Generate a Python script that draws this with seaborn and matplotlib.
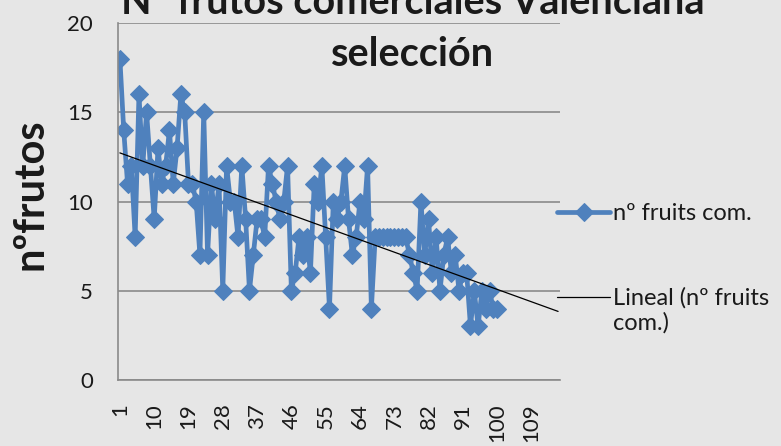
import numpy as np
import pandas as pd
import matplotlib
matplotlib.use("Agg")
import matplotlib.pyplot as plt
import seaborn as sns
from matplotlib.legend_handler import HandlerLine2D

# ---- data ----
frutos = [18, 14, 11, 12, 8, 16, 12, 15, 12, 9,
          13, 11, 12, 14, 11, 13, 16, 15, 11, 11,
          10, 7, 15, 7, 11, 9, 11, 5, 12, 10,
          10, 8, 12, 9, 5, 7, 9, 9, 8, 12,
          11, 10, 9, 10, 12, 5, 6, 8, 7, 8,
          6, 11, 10, 12, 8, 4, 10, 9, 10, 12,
          9, 7, 8, 10, 9, 12, 4, 8, 8, 8,
          8, 8, 8, 8, 8, 8, 7, 6, 5, 10,
          7, 9, 6, 8, 5, 7, 8, 6, 7, 5,
          6, 6, 3, 5, 3, 5, 4, 5, 4, 4]
n_categories = 116
xtick_values = [1, 10, 19, 28, 37, 46, 55, 64, 73, 82, 91, 100, 109]
xtick_labels = [str(v) for v in xtick_values]
ytick_values = [0, 5, 10, 15, 20]
title_l1 = "Nº frutos comerciales Valenciana"
title_l2 = "selección"
ylabel = "nºfrutos"
series_label = "nº fruits com."
trend_label = "Lineal (nº fruits\ncom.)"

df = pd.DataFrame({"muestra": np.arange(1, len(frutos) + 1), "frutos": frutos})

# ---- style ----
sns.set_style("white")
plt.rcParams["font.family"] = ["Lato", "DejaVu Sans"]
BG = "#E6E6E6"
GRID = "#8A8A8A"
BLUE = "#4F81BD"
TXT = "#1A1A1A"

W, H = 781, 446
fig = plt.figure(figsize=(W / 100, H / 100), dpi=100, facecolor=BG)
ax = fig.add_axes([118 / W, 1 - 380 / H, (560 - 118) / W, (380 - 23) / H], facecolor=BG)

sns.lineplot(data=df, x="muestra", y="frutos", ax=ax, color=BLUE, linewidth=3.4,
             marker="D", markersize=9, markeredgecolor=BLUE, markerfacecolor=BLUE,
             label=series_label, legend=False)

# linear trend line over all categories
coef = np.polyfit(df["muestra"], df["frutos"], 1)
xt = np.array([1, n_categories])
trend, = ax.plot(xt, np.polyval(coef, xt), color="black", linewidth=0.9, label=trend_label)

ax.set_xlim(0.5, n_categories + 0.5)
ax.set_ylim(0, 20)
ax.set_yticks(ytick_values)
ax.set_yticklabels([str(v) for v in ytick_values])
ax.set_xticks(xtick_values)
ax.set_xticklabels(xtick_labels, rotation=90)
ax.tick_params(axis="both", length=0, labelsize=16, colors=TXT)
ax.tick_params(axis="x", pad=17)
ax.tick_params(axis="y", pad=18)
ax.grid(axis="y", color=GRID, linewidth=1.2)
ax.grid(axis="x", visible=False)
ax.set_axisbelow(True)
for s in ["top", "right"]:
    ax.spines[s].set_visible(False)
for s in ["left", "bottom"]:
    ax.spines[s].set_color(GRID)
    ax.spines[s].set_linewidth(1.2)
ax.set_xlabel("")
ax.set_ylabel(ylabel, fontsize=30, fontweight="bold", color=TXT)
ax.yaxis.set_label_coords((49 - 118) / 442, (380 - 194) / 357)

# title (two lines, first partly cut at the top)
fig.text(413 / W, 1 - 14 / H, title_l1, ha="center", va="baseline",
         fontsize=28.5, fontweight="bold", color=TXT)
fig.text(413 / W, 1 - 66 / H, title_l2, ha="center", va="baseline",
         fontsize=28.5, fontweight="bold", color=TXT)


class HandlerTop(HandlerLine2D):
    """Line handle aligned with the first line of a two-line label."""
    def __init__(self, shift, **kw):
        super().__init__(**kw)
        self.shift = shift

    def create_artists(self, legend, orig_handle, xdescent, ydescent, width,
                       height, fontsize, trans):
        return super().create_artists(legend, orig_handle, xdescent,
                                      ydescent - self.shift, width, height,
                                      fontsize, trans)


handles = ax.get_lines()
leg = fig.legend(handles=[handles[0], trend], labels=[series_label, trend_label],
                 loc="upper left", bbox_to_anchor=(536 / W, 1 - 182 / H),
                 frameon=False, fontsize=17, handlelength=2.25, handletextpad=0.12,
                 labelspacing=2.65, labelcolor=TXT,
                 handler_map={trend: HandlerTop(shift=19)})

fig.savefig("out.png", dpi=100, facecolor=BG)
